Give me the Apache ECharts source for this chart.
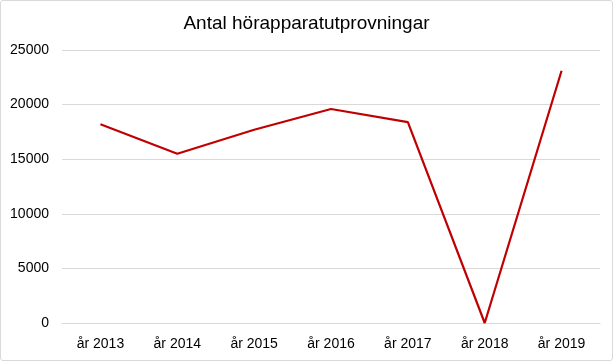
<!DOCTYPE html>
<html><head><meta charset="utf-8">
<script src="https://cdn.jsdelivr.net/npm/echarts@6/dist/echarts.min.js"></script>
<style>html,body{margin:0;padding:0;background:#fff}#c{width:613px;height:361px;box-sizing:border-box;border:1px solid #d9d9d9;border-radius:3px}</style>
</head><body><div id="c"></div>
<script>
const categories = ['år 2013','år 2014','år 2015','år 2016','år 2017','år 2018','år 2019'];
const values = [18200, 15500, 17700, 19600, 18400, 0, 23100];
const titleText = 'Antal hörapparatutprovningar';
const chart = echarts.init(document.getElementById('c'), null, {renderer:'canvas'});
const font = 'Liberation Sans, Arial, sans-serif';
chart.setOption({
  animation:false,
  title:{text:titleText,left:'center',top:8,textStyle:{fontFamily:font,fontSize:19,fontWeight:'normal',color:'#000'}},
  grid:{left:61,right:12,top:49,bottom:37},
  xAxis:{type:'category',data:categories,boundaryGap:true,
    axisLine:{show:true,lineStyle:{color:'#d9d9d9'}},axisTick:{show:false},
    axisLabel:{fontFamily:font,fontSize:14,color:'#000',margin:14}},
  yAxis:{type:'value',min:0,max:25000,interval:5000,
    axisLine:{show:false},axisTick:{show:false},
    splitLine:{lineStyle:{color:'#d9d9d9'}},
    axisLabel:{fontFamily:font,fontSize:14,color:'#000',margin:13,formatter:v=>String(v)}},
  series:[{type:'line',data:values,symbol:'none',lineStyle:{color:'#C00000',width:2.2}}]
});
</script></body></html>
